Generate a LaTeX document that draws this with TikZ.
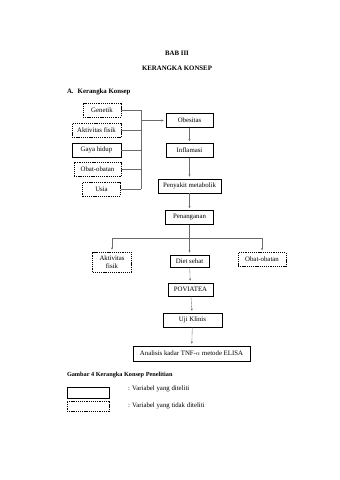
\documentclass[tikz,border=0pt]{standalone}
\usepackage{fontspec}
\setmainfont{Liberation Serif}
\usetikzlibrary{arrows.meta}
\newlength\px
\setlength\px{0.0619cm}
\definecolor{cline}{HTML}{6B6B6B}
\tikzset{
  every picture/.style={font=\fontsize{12}{13}\selectfont},
  box/.style={draw=black, line width=0.9pt, align=center, inner sep=1pt, minimum height=14\px},
  dbox/.style={box, dashed, dash pattern=on 2.2pt off 1.6pt},
  arrow/.style={-{Stealth[length=4pt, width=3.5pt]}, draw=cline, line width=0.6pt, shorten >=2\px},
  link/.style={draw=cline, line width=0.6pt},
  title/.style={font=\fontsize{12}{13}\selectfont\bfseries},
  caption/.style={font=\fontsize{11}{12}\selectfont\bfseries, anchor=west},
  note/.style={anchor=west},
}
\begin{document}
\begin{tikzpicture}[x=\px, y=-\px]
  \useasboundingbox (0,0) rectangle (339,480);
  % titles
  \node[title] (bab) at (177,53) {BAB III};
  \node[title] (judul) at (177,68) {KERANGKA KONSEP};
  \node[title, anchor=west] (sub) at (65,92) {A.\hspace{0.6em}Kerangka Konsep};

  % factors
  \node[dbox, minimum width=38\px] (genetik) at (102,110) {Genetik};
  \node[dbox, minimum width=49\px] (aktivitas) at (96.5,130.5) {Aktivitas fisik};
  \node[box, minimum width=49\px] (gaya) at (96.5,150) {Gaya hidup};
  \node[dbox, minimum width=47\px] (obat) at (97.5,169.5) {Obat-obatan};
  \node[dbox, minimum width=38\px] (usia) at (101.5,189) {Usia};
  \coordinate (jt) at (141,110);
  \coordinate (jb) at (141,189);
  \coordinate (jm) at (141,120.5);

  % main chain
  \node[box, minimum width=47\px] (obesitas) at (189.5,120.5) {Obesitas};
  \node[box, minimum width=47\px] (inflamasi) at (189.5,150.5) {Inflamasi};
  \node[box, minimum width=63\px] (penyakit) at (189.5,186) {Penyakit metabolik};
  \node[box, minimum width=48\px] (penanganan) at (189.5,217.5) {Penanganan};
  \node[dbox, minimum width=39\px, minimum height=20\px] (aktif) at (112,262) {Aktivitas\\fisik};
  \node[box, minimum width=39\px, minimum height=12\px] (diet) at (189.5,261) {Diet sehat};
  \node[dbox, minimum width=48\px] (obatb) at (262,259.5) {Obat-obatan};
  \node[box, minimum width=45\px, minimum height=13\px] (poviatea) at (190.5,289.5) {POVIATEA};
  \node[box, minimum width=59\px] (uji) at (192.5,320) {Uji Klinis};
  \node[box, minimum width=117\px, minimum height=15\px] (elisa) at (191.5,353.5) {Analisis kadar TNF-\(\alpha\) metode ELISA};
  \coordinate (bl) at (112,238);
  \coordinate (bm) at (189.5,238);
  \coordinate (br) at (262,238);

  % connectors
  \foreach \n in {genetik, aktivitas, gaya, obat, usia}
    \draw[link] (\n.east) -- (\n.east -| jt);
  \draw[link] (jt) -- (jb);
  \draw[arrow] (jm) -- (obesitas.west);
  \draw[arrow] (obesitas) -- (inflamasi);
  \draw[arrow] (inflamasi) -- (penyakit);
  \draw[arrow] (penyakit) -- (penanganan);
  \draw[link] (penanganan) -- (bm);
  \draw[link] (bl) -- (br);
  \draw[arrow] (bl) -- (aktif);
  \draw[arrow] (bm) -- (diet);
  \draw[arrow] (br) -- (obatb);
  \draw[arrow] (diet) -- (poviatea);
  \draw[arrow] (poviatea) -- (uji);
  \draw[arrow] (uji) -- (elisa);

  % legend
  \node[caption] (cap) at (65,375) {Gambar 4 Kerangka Konsep Penelitian};
  \node[box, minimum width=42\px, minimum height=11\px] (lgsolid) at (88,392.5) {};
  \node[dbox, minimum width=42\px, minimum height=10\px] (lgdash) at (88,406) {};
  \node[note] (lgt1) at (126,389) {: Variabel yang diteliti};
  \node[note] (lgt2) at (126,406) {: Variabel yang tidak diteliti};
\end{tikzpicture}
\end{document}
